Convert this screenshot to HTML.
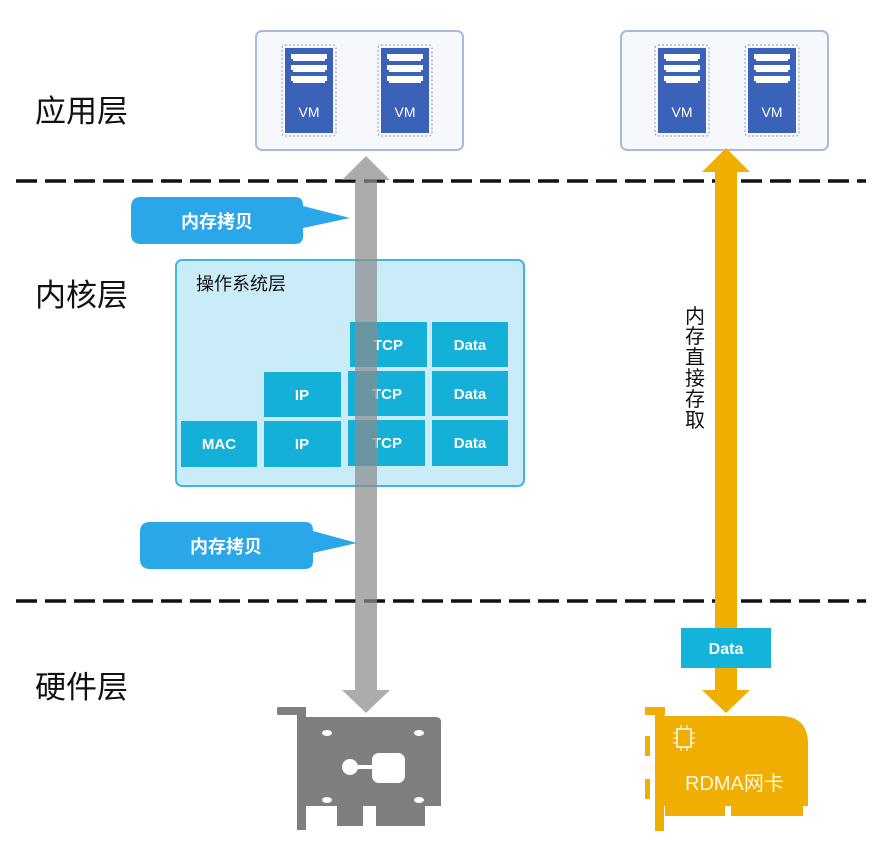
<!DOCTYPE html>
<html><head><meta charset="utf-8"><style>
html,body{margin:0;padding:0;background:#fff;}
svg{display:block;}
text{font-family:"Liberation Sans","Noto Sans CJK SC",sans-serif;}
</style></head><body>
<svg width="879" height="849" viewBox="0 0 879 849" xmlns="http://www.w3.org/2000/svg">
<line x1="16" y1="181" x2="866" y2="181" stroke="#111" stroke-width="3.5" stroke-dasharray="21 8"/>
<line x1="16" y1="601" x2="866" y2="601" stroke="#111" stroke-width="3.5" stroke-dasharray="21 8"/>

<g font-size="31" fill="#111">
<text x="35" y="122" font-family="Liberation Sans, Noto Sans CJK SC, sans-serif">应用层</text>
<text x="35" y="306" font-family="Liberation Sans, Noto Sans CJK SC, sans-serif">内核层</text>
<text x="35" y="698" font-family="Liberation Sans, Noto Sans CJK SC, sans-serif">硬件层</text>
</g>

<rect x="256" y="31" width="207" height="119" rx="6" fill="#f7f8fb" stroke="#a9bad8" stroke-width="2"/>
<rect x="621" y="31" width="207" height="119" rx="6" fill="#f7f8fb" stroke="#a9bad8" stroke-width="2"/>
<g transform="translate(282,45)">
<rect x="0" y="0" width="54" height="91" rx="3" fill="none" stroke="#8a98b8" stroke-dasharray="2 2"/>
<rect x="3" y="3" width="48" height="85" fill="#3a62b8"/>
<rect x="9" y="9" width="36" height="5" fill="#fff"/><rect x="11" y="14" width="32" height="2" fill="#fff"/>
<rect x="9" y="20" width="36" height="5" fill="#fff"/><rect x="11" y="25" width="32" height="2" fill="#fff"/>
<rect x="9" y="31" width="36" height="5" fill="#fff"/><rect x="11" y="36" width="32" height="2" fill="#fff"/>
<text x="27" y="72" font-size="14" fill="#fff" text-anchor="middle">VM</text>
</g>
<g transform="translate(378,45)">
<rect x="0" y="0" width="54" height="91" rx="3" fill="none" stroke="#8a98b8" stroke-dasharray="2 2"/>
<rect x="3" y="3" width="48" height="85" fill="#3a62b8"/>
<rect x="9" y="9" width="36" height="5" fill="#fff"/><rect x="11" y="14" width="32" height="2" fill="#fff"/>
<rect x="9" y="20" width="36" height="5" fill="#fff"/><rect x="11" y="25" width="32" height="2" fill="#fff"/>
<rect x="9" y="31" width="36" height="5" fill="#fff"/><rect x="11" y="36" width="32" height="2" fill="#fff"/>
<text x="27" y="72" font-size="14" fill="#fff" text-anchor="middle">VM</text>
</g>
<g transform="translate(655,45)">
<rect x="0" y="0" width="54" height="91" rx="3" fill="none" stroke="#8a98b8" stroke-dasharray="2 2"/>
<rect x="3" y="3" width="48" height="85" fill="#3a62b8"/>
<rect x="9" y="9" width="36" height="5" fill="#fff"/><rect x="11" y="14" width="32" height="2" fill="#fff"/>
<rect x="9" y="20" width="36" height="5" fill="#fff"/><rect x="11" y="25" width="32" height="2" fill="#fff"/>
<rect x="9" y="31" width="36" height="5" fill="#fff"/><rect x="11" y="36" width="32" height="2" fill="#fff"/>
<text x="27" y="72" font-size="14" fill="#fff" text-anchor="middle">VM</text>
</g>
<g transform="translate(745,45)">
<rect x="0" y="0" width="54" height="91" rx="3" fill="none" stroke="#8a98b8" stroke-dasharray="2 2"/>
<rect x="3" y="3" width="48" height="85" fill="#3a62b8"/>
<rect x="9" y="9" width="36" height="5" fill="#fff"/><rect x="11" y="14" width="32" height="2" fill="#fff"/>
<rect x="9" y="20" width="36" height="5" fill="#fff"/><rect x="11" y="25" width="32" height="2" fill="#fff"/>
<rect x="9" y="31" width="36" height="5" fill="#fff"/><rect x="11" y="36" width="32" height="2" fill="#fff"/>
<text x="27" y="72" font-size="14" fill="#fff" text-anchor="middle">VM</text>
</g>

<path d="M141,197 H295 Q303,197 303,205 V206 L350,218 L303,228 V236 Q303,244 295,244 H141 Q131,244 131,234 V207 Q131,197 141,197 Z" fill="#2aa7e8"/>
<text x="217" y="228" font-size="18" font-weight="bold" fill="#fff" text-anchor="middle" font-family="Liberation Sans, Noto Sans CJK SC, sans-serif">内存拷贝</text>
<path d="M150,522 H305 Q313,522 313,530 V531 L357,543 L313,553 V561 Q313,569 305,569 H150 Q140,569 140,559 V532 Q140,522 150,522 Z" fill="#2aa7e8"/>
<text x="226" y="553" font-size="18" font-weight="bold" fill="#fff" text-anchor="middle" font-family="Liberation Sans, Noto Sans CJK SC, sans-serif">内存拷贝</text>

<rect x="176" y="260" width="348" height="226" rx="6" fill="#caecf9" stroke="#3fb6de" stroke-width="2"/>
<text x="196" y="290" font-size="18" fill="#111" font-family="Liberation Sans, Noto Sans CJK SC, sans-serif">操作系统层</text>
<g fill="#14b0d8">
<rect x="350" y="322" width="77" height="45"/><rect x="432" y="322" width="76" height="45"/>
<rect x="264" y="372" width="77" height="45"/><rect x="348" y="371" width="77" height="45"/><rect x="432" y="371" width="76" height="45"/>
<rect x="181" y="421" width="76" height="46"/><rect x="264" y="421" width="77" height="46"/><rect x="348" y="420" width="77" height="46"/><rect x="432" y="420" width="76" height="46"/>
</g>
<g font-size="15" font-weight="bold" fill="#fff" text-anchor="middle">
<text x="388" y="350">TCP</text><text x="470" y="350">Data</text>
<text x="302" y="400">IP</text><text x="387" y="399">TCP</text><text x="470" y="399">Data</text>
<text x="219" y="449">MAC</text><text x="302" y="449">IP</text><text x="387" y="448">TCP</text><text x="470" y="448">Data</text>
</g>

<path d="M366,156 L390,180 L377,180 L377,690 L390,690 L366,713 L342,690 L355,690 L355,180 L342,180 Z" fill="#8c8c8c" fill-opacity="0.72"/>

<path d="M726,148 L750,172 L737,172 L737,690 L750,690 L726,713 L702,690 L715,690 L715,172 L702,172 Z" fill="#f0ae00"/>
<g font-size="20" fill="#111" text-anchor="middle" font-family="Liberation Sans, Noto Sans CJK SC, sans-serif">
<text x="695" y="323">内</text><text x="695" y="343">存</text><text x="695" y="364">直</text><text x="695" y="385">接</text><text x="695" y="406">存</text><text x="695" y="427">取</text>
</g>
<rect x="681" y="628" width="90" height="40" fill="#12b4dc"/>
<text x="726" y="654" font-size="16" font-weight="bold" fill="#fff" text-anchor="middle">Data</text>

<g fill="#7f7f7f">
<rect x="277" y="707" width="26" height="8" rx="2"/>
<rect x="297" y="707" width="9" height="123"/>
<path d="M303,717 H436 Q441,717 441,722 V806 H303 Z"/>
<rect x="337" y="800" width="26" height="26"/>
<rect x="376" y="800" width="49" height="26"/>
</g>
<g fill="#fff">
<ellipse cx="327" cy="733" rx="5" ry="3"/><ellipse cx="419" cy="733" rx="5" ry="3"/>
<ellipse cx="327" cy="800" rx="5" ry="3"/><ellipse cx="419" cy="800" rx="5" ry="3"/>
<circle cx="350" cy="767" r="8"/><rect x="350" y="765" width="25" height="4"/>
<rect x="372" y="753" width="33" height="30" rx="7"/>
</g>

<g fill="#f0ae00">
<rect x="645" y="707" width="20" height="8"/>
<rect x="655" y="707" width="9" height="124"/>
<rect x="645" y="736" width="5" height="20"/><rect x="645" y="779" width="5" height="20"/>
<path d="M664,716 H780 Q808,716 808,744 V806 H664 Z"/>
<rect x="665" y="800" width="60" height="16"/><rect x="731" y="800" width="72" height="16"/>
</g>
<rect x="677" y="729" width="14" height="18" fill="none" stroke="#fff" stroke-width="1.5"/>
<g stroke="#fff" stroke-width="1">
<line x1="673" y1="733" x2="677" y2="733"/><line x1="673" y1="738" x2="677" y2="738"/><line x1="673" y1="743" x2="677" y2="743"/>
<line x1="691" y1="733" x2="695" y2="733"/><line x1="691" y1="738" x2="695" y2="738"/><line x1="691" y1="743" x2="695" y2="743"/>
<line x1="681" y1="725" x2="681" y2="729"/><line x1="687" y1="725" x2="687" y2="729"/>
<line x1="681" y1="747" x2="681" y2="751"/><line x1="687" y1="747" x2="687" y2="751"/>
</g>
<text x="685" y="790" font-size="20" fill="#fff8e0" font-family="Liberation Sans, Noto Sans CJK SC, sans-serif">RDMA网卡</text>
</svg>
</body></html>
